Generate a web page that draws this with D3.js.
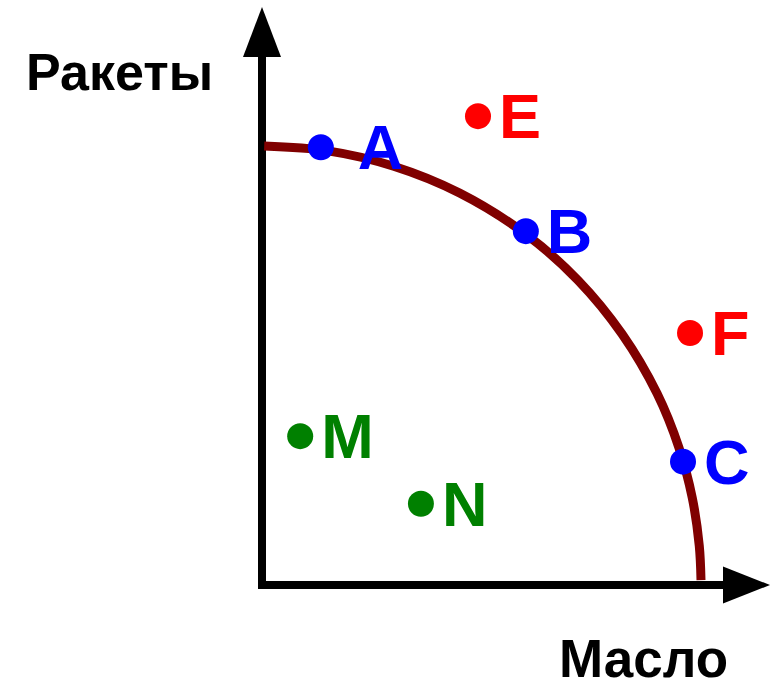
<!DOCTYPE html>
<html>
<head>
<meta charset="utf-8">
<script src="https://cdnjs.cloudflare.com/ajax/libs/d3/7.8.5/d3.min.js"></script>
<style>
  body { margin: 0; background: #fff; }
  text { font-family: "Liberation Sans", Arial, sans-serif; font-weight: bold; }
</style>
</head>
<body>
<div class="diagram"></div>
<script>
var width = 770, height = 683;

// production possibility frontier (масло, ракеты)
var curveMaslo  = [0.5, 15, 30, 45, 60, 72, 82, 90, 95, 98, 99.6, 100];
var curveRakety = [100, 98.9, 95.4, 89.3, 80, 69.4, 57.2, 43.6, 31.2, 19.9, 9, 1.1];

// labelled points
var pointNames  = ["A", "B", "C", "E", "F", "M", "N"];
var pointMaslo  = [13.4, 60.1, 95.9, 49.2, 97.5, 8.7, 36.2];
var pointRakety = [99.7, 80.6, 28.1, 106.8, 57.4, 33.9, 18.5];
var pointGroup  = ["on", "on", "on", "out", "out", "in", "in"];

var xTitle = "Масло", yTitle = "Ракеты";

var svg = d3.select('.diagram')
  .append('svg')
  .attr('width', width)
  .attr('height', height);

var x = d3.scaleLinear().domain([0, 100]).range([262, 701]),
    y = d3.scaleLinear().domain([0, 100]).range([585, 146]),
    z = d3.scaleOrdinal().domain(["on", "out", "in"]).range(["#0000ff", "#ff0000", "#008000"]);

var x0 = x(0), y0 = y(0);

// axes
svg.append('line')
  .attr('x1', x0).attr('y1', y0 + 4)
  .attr('x2', x0).attr('y2', 50)
  .attr('stroke', '#000').attr('stroke-width', 8);

svg.append('path')
  .attr('d', 'M' + x0 + ',7 L' + (x0 - 19) + ',57 L' + (x0 + 19) + ',57 Z')
  .attr('fill', '#000');

svg.append('line')
  .attr('x1', x0 - 4).attr('y1', y0)
  .attr('x2', 730).attr('y2', y0)
  .attr('stroke', '#000').attr('stroke-width', 8);

svg.append('path')
  .attr('d', 'M770,' + y0 + ' L723,' + (y0 - 18.5) + ' L723,' + (y0 + 18.5) + ' Z')
  .attr('fill', '#000');

// frontier
var line = d3.line()
  .curve(d3.curveCatmullRom.alpha(0.5))
  .x(function(d) { return x(d[0]); })
  .y(function(d) { return y(d[1]); });

svg.append('path')
  .attr('d', line(curveMaslo.map(function(v, i) { return [v, curveRakety[i]]; })))
  .attr('fill', 'none')
  .attr('stroke', '#800000')
  .attr('stroke-width', 9);

// points
var points = pointNames.map(function(n, i) {
  return {name: n, maslo: pointMaslo[i], rakety: pointRakety[i], group: pointGroup[i]};
});

var pt = svg.selectAll('.pt')
  .data(points)
  .enter()
  .append('g')
  .attr('class', 'pt');

pt.append('circle')
  .attr('cx', function(d) { return x(d.maslo); })
  .attr('cy', function(d) { return y(d.rakety); })
  .attr('r', 13)
  .attr('fill', function(d) { return z(d.group); });

pt.append('text')
  .attr('x', function(d) { return x(d.maslo) + (d.name === "A" ? 37 : 21); })
  .attr('y', function(d) { return y(d.rakety) + 22; })
  .attr('font-size', 63)
  .attr('fill', function(d) { return z(d.group); })
  .text(function(d) { return d.name; });

// axis titles
svg.append('text')
  .attr('x', 26).attr('y', 90)
  .attr('font-size', 52)
  .attr('fill', '#000')
  .text(yTitle);

svg.append('text')
  .attr('x', 559).attr('y', 677)
  .attr('font-size', 53)
  .attr('fill', '#000')
  .text(xTitle);
</script>
</body>
</html>
